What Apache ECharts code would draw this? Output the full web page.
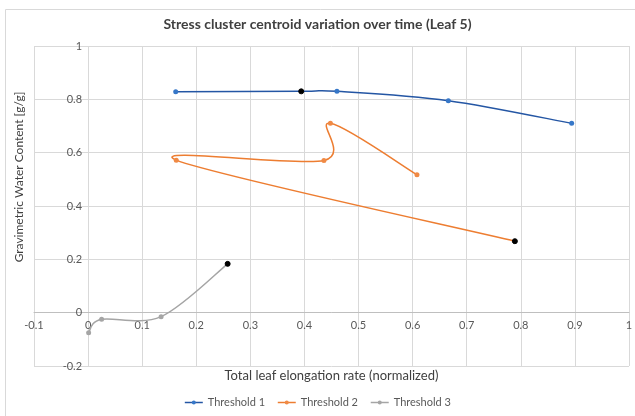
<!DOCTYPE html>
<html>
<head>
<meta charset="utf-8">
<script src="https://cdn.jsdelivr.net/npm/echarts@6/dist/echarts.min.js"></script>
<style>
  html, body { margin: 0; padding: 0; background: #fff; }
  #chart { width: 635px; height: 416px; }
</style>
</head>
<body>
<div id="chart"></div>
<script>
// values
const seriesNames = ["Threshold 1", "Threshold 2", "Threshold 3"];
const t1X = [0.162, 0.394, 0.46, 0.666, 0.894];
const t1Y = [0.828, 0.83, 0.83, 0.795, 0.71];
const t2X = [0.608, 0.448, 0.436, 0.163, 0.789];
const t2Y = [0.517, 0.71, 0.571, 0.572, 0.268];
const t3X = [0.001, 0.025, 0.135, 0.258];
const t3Y = [-0.075, -0.025, -0.015, 0.183];
// index of the point drawn in black in each series
const blackIdx = [1, 4, 3];

const allX = [t1X, t2X, t3X];
const allY = [t1Y, t2Y, t3Y];
const lineColors = ["#2456a4", "#ed7d31", "#a5a5a5"];
const dotColors = ["#3677c8", "#f08a45", "#a5a5a5"];
const font = "Lato, 'Open Sans', sans-serif";

// grid box (px) and axis ranges, used to put the axes through zero like excel does
const gridBox = { left: 34, right: 6, top: 46, bottom: 50 };
const xMin = -0.1, xMax = 1, yMin = -0.2, yMax = 1;
const plotW = 635 - gridBox.left - gridBox.right;
const plotH = 416 - gridBox.top - gridBox.bottom;

function pts(k) {
  var out = [];
  for (var i = 0; i < allX[k].length; i++) {
    var p = { value: [allX[k][i], allY[k][i]] };
    if (i === blackIdx[k]) p.itemStyle = { color: "#000", borderColor: "#000" };
    out.push(p);
  }
  return out;
}

// excel style smoothed line: one bezier per segment, catmull-rom control points
function smoothRender(k) {
  return function (params, api) {
    var i = params.dataIndex;
    var xs = allX[k], ys = allY[k], n = xs.length;
    if (i >= n - 1) return { type: "group", children: [] };
    var c = function (j) {
      j = Math.max(0, Math.min(n - 1, j));
      return api.coord([xs[j], ys[j]]);
    };
    var p0 = c(i - 1), p1 = c(i), p2 = c(i + 1), p3 = c(i + 2);
    return {
      type: "bezierCurve",
      shape: {
        x1: p1[0], y1: p1[1],
        x2: p2[0], y2: p2[1],
        cpx1: p1[0] + (p2[0] - p0[0]) / 6, cpy1: p1[1] + (p2[1] - p0[1]) / 6,
        cpx2: p2[0] - (p3[0] - p1[0]) / 6, cpy2: p2[1] - (p3[1] - p1[1]) / 6
      },
      style: { fill: "none", stroke: lineColors[k], lineWidth: 1.5 }
    };
  };
}

var series = [];
// markers (and legend entries)
seriesNames.forEach(function (n, k) {
  series.push({
    name: n,
    type: "line",
    data: pts(k),
    symbol: "circle",
    symbolSize: 5,
    lineStyle: { color: lineColors[k], width: 1.5, opacity: 0 },
    itemStyle: { color: dotColors[k] },
    z: 3
  });
});
// the smoothed lines
seriesNames.forEach(function (n, k) {
  series.push({
    name: n,
    type: "custom",
    coordinateSystem: "cartesian2d",
    data: pts(k).map(function (p) { return p.value; }),
    renderItem: smoothRender(k),
    z: 2
  });
});

const option = {
  animation: false,
  textStyle: { fontFamily: font },
  title: {
    text: "Stress cluster centroid variation over time (Leaf 5)",
    left: "center",
    top: 12,
    textStyle: { fontSize: 14, fontWeight: "bold", color: "#404040", fontFamily: font }
  },
  graphic: [{
    type: "rect",
    shape: { x: 5.5, y: 9.5, width: 700, height: 500 },
    style: { fill: "none", stroke: "#d9d9d9", lineWidth: 1 },
    silent: true
  }],
  legend: {
    data: seriesNames,
    bottom: 3,
    left: "center",
    itemWidth: 18,
    itemHeight: 5,
    itemGap: 12,
    lineStyle: { opacity: 1, width: 1.5 },
    textStyle: { fontSize: 11, color: "#595959", fontFamily: font }
  },
  grid: Object.assign({ outerBoundsMode: "none" }, gridBox),
  xAxis: {
    type: "value",
    min: xMin,
    max: xMax,
    interval: 0.1,
    // sit on y = 0
    offset: -plotH * (0 - yMin) / (yMax - yMin),
    name: "Total leaf elongation rate (normalized)",
    nameLocation: "middle",
    nameGap: 57,
    nameTextStyle: { fontSize: 13, color: "#404040" },
    axisLine: { onZero: false, lineStyle: { color: "#bfbfbf" } },
    axisTick: { show: false },
    axisLabel: { fontSize: 11, color: "#595959", margin: 7,
      formatter: function (v) { return String(Math.round(v * 10) / 10); } },
    splitLine: { show: true, lineStyle: { color: "#d9d9d9" } }
  },
  yAxis: {
    type: "value",
    min: yMin,
    max: yMax,
    interval: 0.2,
    // sit on x = 0
    offset: -plotW * (0 - xMin) / (xMax - xMin),
    name: "Gravimetric Water Content [g/g]",
    nameLocation: "middle",
    nameGap: 63,
    nameTextStyle: { fontSize: 12, color: "#404040", padding: [0, 0, 0, 58] },
    axisLine: { show: false, onZero: false },
    axisTick: { show: false },
    axisLabel: { fontSize: 11, color: "#595959", margin: 6,
      formatter: function (v) { return String(Math.round(v * 10) / 10); } },
    splitLine: { show: true, lineStyle: { color: "#d9d9d9" } }
  },
  series: series
};

const myChart = echarts.init(document.getElementById("chart"));
myChart.setOption(option);
</script>
</body>
</html>
